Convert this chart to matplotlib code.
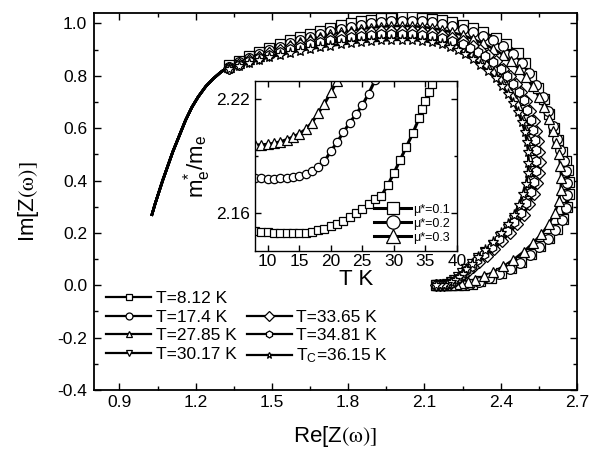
import matplotlib
matplotlib.use("Agg")
import matplotlib.pyplot as plt
from matplotlib.ticker import MultipleLocator, FormatStrFormatter
from matplotlib.lines import Line2D

plt.rcParams['font.family'] = ['Liberation Sans', 'DejaVu Sans']
plt.rcParams['mathtext.fontset'] = 'stix'

# ---------------- main plot data ----------------
lead_re = [1.028, 1.04, 1.055, 1.07, 1.09, 1.11, 1.135, 1.16, 1.185, 1.21, 1.24, 1.27, 1.30, 1.33]
lead_im = [0.27, 0.31, 0.355, 0.40, 0.455, 0.51, 0.57, 0.63, 0.68, 0.72, 0.76, 0.79, 0.815, 0.835]

sq_re = [1.33,1.37,1.41,1.45,1.49,1.53,1.57,1.61,1.65,1.69,1.73,1.77,1.81,1.85,1.89,1.93,1.97,2.01,2.05,2.09,
         2.13,2.17,2.21,2.25,2.29,2.33,2.38,2.42,2.467,2.495,2.52,2.545,2.57,2.59,2.61,2.625,2.64,2.655,2.665,2.67,
         2.67,2.66,2.645,2.62,2.59,2.555,2.52,2.48,2.44,2.40,2.36,2.32,2.285,2.255,2.23,2.21,2.19,2.17,2.155,2.145]
sq_im = [0.84,0.858,0.875,0.89,0.905,0.92,0.935,0.948,0.96,0.972,0.983,0.993,1.001,1.008,1.014,1.019,1.022,1.024,1.024,1.022,
         1.018,1.012,1.004,0.994,0.981,0.966,0.946,0.922,0.888,0.85,0.80,0.755,0.71,0.655,0.60,0.555,0.51,0.475,0.44,0.395,
         0.35,0.30,0.255,0.215,0.18,0.15,0.12,0.09,0.065,0.045,0.028,0.015,0.006,0.002,0.0,0.0,0.0,0.0,0.0,0.0]

ci_re = [1.33,1.37,1.41,1.45,1.49,1.53,1.57,1.61,1.65,1.69,1.73,1.77,1.81,1.85,1.89,1.93,1.97,2.01,2.05,2.09,
         2.13,2.17,2.21,2.25,2.29,2.33,2.37,2.41,2.45,2.485,2.51,2.54,2.565,2.585,2.605,2.62,2.635,2.648,2.658,2.662,
         2.662,2.655,2.64,2.615,2.585,2.55,2.515,2.475,2.435,2.395,2.355,2.315,2.28,2.25,2.225,2.205,2.185,2.17,2.155,2.145]
ci_im = [0.835,0.852,0.868,0.883,0.897,0.911,0.925,0.938,0.95,0.961,0.971,0.98,0.988,0.995,1.0,1.005,1.008,1.01,1.01,1.008,
         1.004,0.998,0.99,0.98,0.968,0.953,0.935,0.913,0.885,0.85,0.81,0.765,0.72,0.665,0.61,0.56,0.515,0.475,0.435,0.39,
         0.345,0.295,0.25,0.21,0.175,0.145,0.115,0.087,0.063,0.043,0.027,0.014,0.006,0.002,0.0,0.0,0.0,0.0,0.0,0.0]

ut_re = [1.33,1.37,1.41,1.45,1.49,1.53,1.57,1.61,1.65,1.69,1.73,1.77,1.81,1.85,1.89,1.93,1.97,2.01,2.05,2.09,
         2.13,2.17,2.21,2.25,2.29,2.33,2.37,2.41,2.44,2.47,2.50,2.525,2.55,2.57,2.59,2.605,2.618,2.628,2.635,2.638,
         2.636,2.628,2.612,2.59,2.56,2.525,2.49,2.45,2.41,2.37,2.335,2.30,2.27,2.245,2.225,2.205,2.185,2.17,2.155,2.145]
ut_im = [0.832,0.848,0.863,0.877,0.89,0.903,0.916,0.928,0.939,0.949,0.958,0.966,0.973,0.979,0.984,0.988,0.99,0.991,0.99,0.987,
         0.982,0.975,0.966,0.955,0.941,0.924,0.904,0.88,0.856,0.828,0.795,0.76,0.72,0.68,0.635,0.59,0.545,0.5,0.455,0.41,
         0.365,0.32,0.275,0.235,0.195,0.16,0.128,0.098,0.072,0.05,0.034,0.022,0.014,0.01,0.005,0.002,0.0,0.0,0.0,0.0]

dt_re = [1.33,1.37,1.41,1.45,1.49,1.53,1.57,1.61,1.65,1.69,1.73,1.77,1.81,1.85,1.89,1.93,1.97,2.01,2.05,2.09,
         2.13,2.17,2.21,2.245,2.275,2.305,2.335,2.365,2.39,2.415,2.44,2.46,2.478,2.494,2.507,2.518,2.526,2.531,2.533,2.531,
         2.525,2.514,2.498,2.478,2.454,2.427,2.398,2.368,2.338,2.31,2.286,2.265,2.247,2.232,2.218,2.204,2.19,2.175,2.16,2.145]
dt_im = [0.826,0.84,0.853,0.865,0.876,0.886,0.895,0.904,0.912,0.919,0.926,0.932,0.937,0.941,0.945,0.948,0.95,0.951,0.95,0.947,
         0.942,0.935,0.925,0.914,0.9,0.884,0.865,0.843,0.82,0.793,0.765,0.735,0.703,0.668,0.632,0.595,0.557,0.518,0.478,0.438,
         0.398,0.358,0.32,0.283,0.248,0.215,0.184,0.155,0.128,0.103,0.081,0.062,0.045,0.031,0.02,0.011,0.005,0.001,0.0,0.0]

di_re = [1.33,1.37,1.41,1.45,1.49,1.53,1.57,1.61,1.65,1.69,1.73,1.77,1.81,1.85,1.89,1.93,1.97,2.01,2.05,2.09,
         2.13,2.17,2.21,2.25,2.29,2.32,2.35,2.38,2.41,2.435,2.46,2.48,2.50,2.515,2.53,2.54,2.548,2.552,2.553,2.55,
         2.543,2.53,2.512,2.49,2.465,2.435,2.405,2.375,2.345,2.315,2.29,2.27,2.25,2.235,2.22,2.205,2.19,2.175,2.16,2.145]
di_im = [0.83,0.845,0.86,0.873,0.886,0.898,0.909,0.919,0.928,0.937,0.945,0.952,0.958,0.963,0.967,0.97,0.972,0.972,0.971,0.968,
         0.963,0.955,0.945,0.932,0.915,0.898,0.878,0.855,0.828,0.8,0.77,0.738,0.703,0.667,0.628,0.59,0.55,0.51,0.47,0.43,
         0.39,0.35,0.31,0.27,0.235,0.2,0.168,0.14,0.113,0.09,0.07,0.053,0.038,0.026,0.016,0.008,0.003,0.0,0.0,0.0]

hx_re = [1.33,1.37,1.41,1.45,1.49,1.53,1.57,1.61,1.65,1.69,1.73,1.77,1.81,1.85,1.89,1.93,1.97,2.01,2.05,2.09,
         2.13,2.17,2.21,2.25,2.28,2.31,2.34,2.37,2.40,2.425,2.45,2.47,2.49,2.505,2.518,2.528,2.535,2.54,2.54,2.537,
         2.53,2.518,2.5,2.478,2.452,2.425,2.395,2.365,2.335,2.308,2.285,2.265,2.247,2.232,2.218,2.204,2.19,2.175,2.16,2.145]
hx_im = [0.828,0.842,0.856,0.869,0.881,0.892,0.902,0.911,0.92,0.928,0.935,0.941,0.947,0.951,0.955,0.958,0.96,0.96,0.959,0.956,
         0.951,0.943,0.933,0.92,0.907,0.892,0.874,0.852,0.827,0.8,0.77,0.74,0.706,0.67,0.633,0.595,0.555,0.515,0.475,0.435,
         0.395,0.355,0.315,0.277,0.242,0.208,0.176,0.147,0.12,0.096,0.075,0.057,0.041,0.028,0.018,0.01,0.004,0.001,0.0,0.0]

st_re = [1.33,1.37,1.41,1.45,1.49,1.53,1.57,1.61,1.65,1.69,1.73,1.77,1.81,1.85,1.89,1.93,1.97,2.01,2.05,2.09,
         2.13,2.17,2.20,2.23,2.26,2.29,2.32,2.35,2.38,2.405,2.43,2.45,2.468,2.483,2.495,2.503,2.508,2.509,2.507,2.5,
         2.488,2.472,2.452,2.428,2.4,2.37,2.34,2.31,2.285,2.265,2.25,2.235,2.22,2.205,2.19,2.175,2.16,2.145]
st_im = [0.825,0.838,0.85,0.861,0.871,0.88,0.888,0.896,0.903,0.909,0.915,0.92,0.925,0.929,0.932,0.935,0.937,0.938,0.937,0.934,
         0.928,0.92,0.91,0.898,0.882,0.864,0.842,0.818,0.79,0.762,0.73,0.697,0.662,0.625,0.587,0.548,0.508,0.468,0.428,0.388,
         0.348,0.308,0.27,0.233,0.198,0.165,0.135,0.107,0.082,0.061,0.044,0.03,0.019,0.011,0.005,0.002,0.0,0.0]

labels = ["T=8.12 K", "T=17.4 K", "T=27.85 K", "T=30.17 K", "T=33.65 K", "T=34.81 K", r"T$_\mathregular{C}$=36.15 K"]
markers = ['s', 'o', '^', 'v', 'D', 'h', '*']
msizes = [6.5, 7, 7.5, 7.5, 6, 7, 8]
curves = [(sq_re, sq_im), (ci_re, ci_im), (ut_re, ut_im), (dt_re, dt_im),
          (di_re, di_im), (hx_re, hx_im), (st_re, st_im)]

# ---------------- inset data ----------------
T_in = [8, 9, 10, 11, 12, 13, 14, 15, 16, 17, 18, 19, 20, 21, 22, 23, 24, 25, 26, 27, 28, 29, 30,
        31, 32, 33, 34, 34.5, 35, 35.5, 36, 36.5]
m_mu01 = [2.1505, 2.1502, 2.1499, 2.1496, 2.1494, 2.1493, 2.1493, 2.1494, 2.1497, 2.1502, 2.1509, 2.1518,
          2.1530, 2.1544, 2.1560, 2.1578, 2.1598, 2.1620, 2.1645, 2.1672, 2.1690, 2.1745, 2.1810, 2.1880,
          2.1950, 2.2020, 2.2100, 2.2145, 2.2190, 2.2235, 2.2280, 2.2330]
T_mu02 = [8, 9, 10, 11, 12, 13, 14, 15, 16, 17, 18, 19, 20, 21, 22, 23, 24, 25, 26, 27]
m_mu02 = [2.1783, 2.1782, 2.1781, 2.1781, 2.1782, 2.1785, 2.1790, 2.1797, 2.1807, 2.1822, 2.1843, 2.1872,
          2.1925, 2.1972, 2.2025, 2.2075, 2.2120, 2.2168, 2.2228, 2.2298]
T_mu03 = [8, 9, 10, 11, 12, 13, 14, 15, 16, 17, 18, 19, 20, 21]
m_mu03 = [2.1958, 2.1959, 2.1962, 2.1967, 2.1975, 2.1986, 2.2000, 2.2017, 2.2040, 2.2075, 2.2125, 2.2175,
          2.2235, 2.2295]
inset_labels = ["\u03bc*=0.1", "\u03bc*=0.2", "\u03bc*=0.3"]

# ---------------- figure ----------------
fig = plt.figure(figsize=(6.02, 4.59), dpi=100)
ax = fig.add_axes([94/602, 1-390/459, 483/602, 377/459])

handles = []
for (re, im), mk, ms, lab in zip(curves, markers, msizes, labels):
    ax.plot(lead_re + re, lead_im + im, color='black', lw=1.9, zorder=2)
    ax.plot(re, im, linestyle='none', marker=mk, ms=ms, mfc='white', mec='black', mew=0.9, zorder=3)
    handles.append(Line2D([], [], color='black', lw=1.6, marker=mk, ms=5, mfc='white', mec='black', mew=0.9, label=lab))

ax.set_xlim(0.8, 2.7)
ax.set_ylim(-0.4, 1.04)
ax.xaxis.set_major_locator(MultipleLocator(0.3))
ax.xaxis.set_minor_locator(MultipleLocator(0.15))
ax.yaxis.set_major_locator(MultipleLocator(0.2))
ax.yaxis.set_minor_locator(MultipleLocator(0.1))
ax.xaxis.set_major_formatter(FormatStrFormatter('%.1f'))
ax.yaxis.set_major_formatter(FormatStrFormatter('%.1f'))
ax.tick_params(which='both', direction='in', top=True, right=True, labelsize=12.5, width=1.0)
ax.tick_params(which='major', length=5)
ax.tick_params(which='minor', length=3)
ax.tick_params(axis='y', pad=5)
for s in ax.spines.values():
    s.set_linewidth(1.3)
ax.set_xlabel(r'Re[Z$\mathrm{(\omega)]}$', fontsize=16, labelpad=10)
ax.set_ylabel(r'Im[Z$\mathrm{(\omega)]}$', fontsize=16, labelpad=12)

blank = Line2D([], [], linestyle='none', marker=None, label=' ')
leg_handles = handles[:4] + [blank] + handles[4:]
leg = ax.legend(handles=leg_handles, ncol=2, loc='upper left', bbox_to_anchor=(0.0, 0.295),
                frameon=False, fontsize=12.5, handlelength=2.6, handletextpad=0.25,
                columnspacing=0.6, labelspacing=0.2, borderaxespad=0.3)

# ---------------- inset ----------------
axi = fig.add_axes([255/602, 1-251/459, 202/602, 170/459])
axi.set_facecolor('white')
axi.plot(T_in, m_mu01, color='black', lw=2.2, marker='s', ms=5.5, mfc='white', mec='black', mew=0.9, label=inset_labels[0])
axi.plot(T_mu02, m_mu02, color='black', lw=2.2, marker='o', ms=6, mfc='white', mec='black', mew=0.9, label=inset_labels[1])
axi.plot(T_mu03, m_mu03, color='black', lw=2.2, marker='^', ms=6.5, mfc='white', mec='black', mew=0.9, label=inset_labels[2])
axi.set_xlim(8, 40)
axi.set_ylim(2.14, 2.2295)
axi.xaxis.set_major_locator(MultipleLocator(5))
axi.yaxis.set_major_locator(MultipleLocator(0.06))
axi.yaxis.set_minor_locator(MultipleLocator(0.03))
axi.yaxis.set_major_formatter(FormatStrFormatter('%.2f'))
axi.tick_params(which='both', direction='in', top=True, right=True, labelsize=12.5, width=1.0)
axi.tick_params(which='major', length=4)
axi.tick_params(which='minor', length=2.5)
axi.tick_params(axis='x', pad=2)
for s in axi.spines.values():
    s.set_linewidth(1.0)
axi.set_xlabel('T K', fontsize=16, labelpad=0)
axi.set_ylabel(r'm$^\mathregular{*}_\mathregular{e}$/m$_\mathregular{e}$', fontsize=16, labelpad=2)
axi.legend(loc='lower right', frameon=False, fontsize=9, handlelength=3.0, handletextpad=0.1,
           labelspacing=0.15, markerscale=1.6, borderaxespad=0.2)

fig.savefig('out.png', dpi=100)
